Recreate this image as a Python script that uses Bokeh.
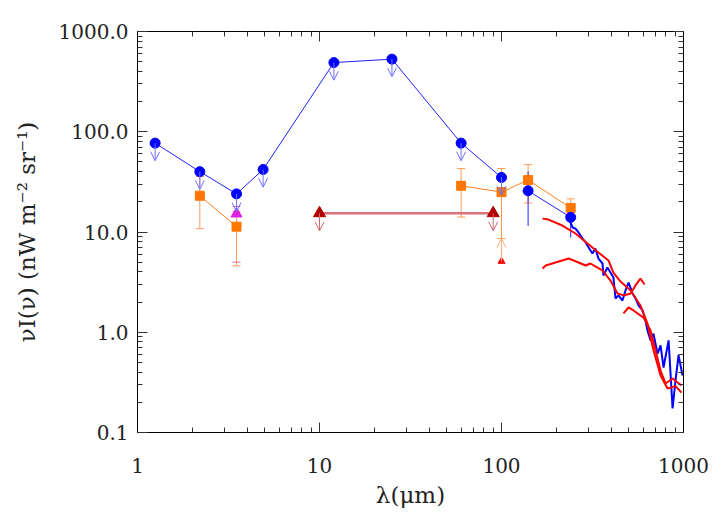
from bokeh.plotting import figure
from bokeh.models import (ColumnDataSource, LogAxis, FixedTicker, Arrow, OpenHead,
                          Whisker, TeeHead, Range1d, CustomJSTickFormatter)
from bokeh.embed import file_html
from bokeh.resources import INLINE

# ---------------- data ----------------
# DIRBE-like upper limits (blue circles with down arrows)
lim_wl = [1.25, 2.2, 3.5, 4.9, 12, 25, 60, 100]
lim_val = [77, 40, 24, 42, 490, 530, 77, 35]

# blue detections with error bars
det_wl = [140, 240]
det_val = [25.8, 14.0]
det_lo = [11.5, 8.8]
det_hi = [40, 17]

# orange squares, near-IR
onir_wl = [2.2, 3.5]
onir_val = [23, 11.3]
onir_lo = [10.8, 4.6]
onir_hi = [35.8, 16]

# orange squares, far-IR
ofir_wl = [60, 100, 140, 240]
ofir_val = [28.9, 25, 33, 17.4]
ofir_lo = [14.1, 8.6, 19.5, 13.5]
ofir_hi = [43, 43, 47, 21.4]

# magenta triangle
mag_wl = [3.5]
mag_val = [15.2]
mag_lo = [5.0]
mag_hi = [18]

# dark red triangles (upper limits, joined)
dr_wl = [10, 90]
dr_val = [15.4, 15.4]

# small red triangle (lower limit)
rt_wl = [100]
rt_val = [5.1]
rt_top = [8.6]

# spectra
spec_blue_wl = [234, 246, 255, 265, 279, 290, 301, 316, 328, 341, 359, 363, 382, 397, 412,
                423, 439, 462, 480, 499, 525, 545, 566, 596, 618, 634, 659, 684, 720, 748,
                777, 828, 871, 904, 939, 988]
spec_blue_val = [13.6, 11.1, 10.8, 9.89, 8.61, 7.86, 7.0, 6.1, 6.85, 5.44, 4.85, 3.68, 4.42,
                 3.94, 3.52, 2.17, 2.33, 2.07, 2.61, 3.13, 2.44, 2.17, 1.85, 1.65, 1.31, 1.04,
                 0.83, 0.97, 0.61, 0.74, 0.445, 0.83, 0.174, 0.33, 0.59, 0.37]

spec_ra_wl = [168, 181, 216, 255, 297, 341, 387, 412, 451, 512, 580, 634, 684, 748, 817, 904, 975]
spec_ra_val = [13.6, 13.3, 11.6, 9.66, 7.68, 6.24, 5.2, 3.94, 3.2, 2.61, 1.85, 1.22, 0.66,
               0.37, 0.275, 0.29, 0.25]

spec_rb_wl = [168, 175, 198, 234, 265, 290, 308, 337, 359, 397, 434, 468, 512, 545, 580, 611]
spec_rb_val = [4.32, 4.63, 4.96, 5.44, 4.96, 4.63, 4.85, 4.42, 4.13, 3.28, 2.44, 2.33, 2.44,
               2.93, 3.44, 2.99]

spec_rc_wl = [468, 499, 531, 603, 659, 702, 748, 797, 871, 975]
spec_rc_val = [1.54, 1.77, 1.65, 1.40, 1.04, 0.66, 0.415, 0.308, 0.346, 0.294]

x_major = [1, 10, 100, 1000]
x_labels = ["1", "10", "100", "1000"]
y_major = [0.1, 1, 10, 100, 1000]
y_labels = ["0.1", "1.0", "10.0", "100.0", "1000.0"]

ARROW_FACTOR = 1.5
FONT = "DejaVu Serif"

# ---------------- figure ----------------
p = figure(x_axis_type="log", y_axis_type="log",
           x_range=Range1d(1, 1000), y_range=Range1d(0.1, 1000),
           frame_width=546, frame_height=401,
           min_border_left=137, min_border_right=36, min_border_top=31, min_border_bottom=79,
           output_backend="svg", toolbar_location=None,
           background_fill_color="white", border_fill_color="white")
p.grid.visible = False
p.outline_line_color = "black"
p.outline_line_width = 1

x_minor = [k * 10 ** d for d in range(0, 3) for k in range(2, 10)]
y_minor = [k * 10 ** d for d in range(-1, 3) for k in range(2, 10)]
xt = FixedTicker(ticks=x_major, minor_ticks=x_minor)
yt = FixedTicker(ticks=y_major, minor_ticks=y_minor)

lookup_code = """
for (let i = 0; i < majors.length; i++) {
    if (Math.abs(tick - majors[i]) <= 1e-6 * majors[i]) { return names[i]; }
}
return '';
"""
p.xaxis.ticker = xt
p.yaxis.ticker = yt
p.xaxis.formatter = CustomJSTickFormatter(args=dict(majors=x_major, names=x_labels), code=lookup_code)
p.yaxis.formatter = CustomJSTickFormatter(args=dict(majors=y_major, names=y_labels), code=lookup_code)

for ax in [p.xaxis[0], p.yaxis[0]]:
    ax.major_tick_in = 10
    ax.major_tick_out = 0
    ax.minor_tick_in = 5
    ax.minor_tick_out = 0
    ax.axis_line_color = "black"
    ax.major_tick_line_color = "#333333"
    ax.minor_tick_line_color = "#333333"
    ax.major_label_text_font = FONT
    ax.major_label_text_font_size = "20px"
    ax.major_label_text_color = "#222222"
    ax.axis_label_text_font = FONT
    ax.axis_label_text_font_size = "23px"
    ax.axis_label_text_font_style = "normal"
    ax.axis_label_text_color = "#222222"

p.xaxis.major_label_standoff = 25
p.yaxis.major_label_standoff = 9
p.xaxis.axis_label = "λ(μm)"
p.yaxis.axis_label = "νI(ν) (nW m⁻² sr⁻¹)"
p.xaxis.axis_label_standoff = 6
p.yaxis.axis_label_standoff = 16

empty = CustomJSTickFormatter(code="return ''")
for side, tk in [("right", yt), ("above", xt)]:
    a = LogAxis(ticker=tk, formatter=empty, major_tick_in=10, major_tick_out=0,
                minor_tick_in=5, minor_tick_out=0, axis_line_color="black",
                major_tick_line_color="#333333", minor_tick_line_color="#333333",
                major_label_standoff=0)
    p.add_layout(a, side)

# ---------------- spectra ----------------
p.line(spec_blue_wl, spec_blue_val, line_color="blue", line_width=2)
p.line(spec_ra_wl, spec_ra_val, line_color="red", line_width=2)
p.line(spec_rb_wl, spec_rb_val, line_color="red", line_width=2)
p.line(spec_rc_wl, spec_rc_val, line_color="red", line_width=2)

# ---------------- error bars ----------------
def whisk(wl, lo, hi, color, head=True, width=1):
    src = ColumnDataSource(dict(x=wl, lo=lo, hi=hi))
    if head:
        uh = TeeHead(size=8, line_color=color, line_width=width)
        lh = TeeHead(size=8, line_color=color, line_width=width)
    else:
        uh = None
        lh = None
    w = Whisker(base="x", lower="lo", upper="hi", source=src, dimension="height",
                line_color=color, line_width=width, upper_head=uh, lower_head=lh)
    p.add_layout(w)

whisk(mag_wl, mag_lo, mag_hi, "#e060c0")
whisk(onir_wl, onir_lo, onir_hi, "#ff9a60")
whisk(ofir_wl, ofir_lo, ofir_hi, "#ff9a50")
whisk(det_wl, det_lo, det_hi, "#2020ff", head=False)

# ---------------- arrows ----------------
def arrows(wl, val, color, factor):
    src = ColumnDataSource(dict(x=wl, y=val, ye=[v * factor for v in val]))
    a = Arrow(end=OpenHead(size=9, line_color=color, line_width=1),
              x_start="x", y_start="y", x_end="x", y_end="ye", source=src,
              line_color=color, line_width=1)
    p.add_layout(a)

arrows(lim_wl, lim_val, "#7070ff", 1 / ARROW_FACTOR)
arrows(dr_wl, dr_val, "#d06a70", 1 / ARROW_FACTOR)
src_up = ColumnDataSource(dict(x=rt_wl, y=rt_val, ye=rt_top))
p.add_layout(Arrow(end=OpenHead(size=9, line_color="#ffb07a", line_width=1),
                   x_start="x", y_start="y", x_end="x", y_end="ye", source=src_up,
                   line_color="#ffb07a", line_width=1))

# ---------------- connected points ----------------
p.line(dr_wl, dr_val, line_color="#d9707a", line_width=2.5)
p.scatter(dr_wl, dr_val, marker="triangle", size=12, fill_color="#b00000", line_color="#b00000")

p.line(onir_wl, onir_val, line_color="#ff8020", line_width=1)
p.line(ofir_wl, ofir_val, line_color="#ff8020", line_width=1)
p.scatter(onir_wl, onir_val, marker="square", size=9, fill_color="#ff7700", line_color="#ff7700")
p.scatter(ofir_wl, ofir_val, marker="square", size=9, fill_color="#ff7700", line_color="#ff7700")

p.line(lim_wl, lim_val, line_color="#2020ff", line_width=1)
p.scatter(lim_wl, lim_val, marker="circle", size=10, fill_color="blue", line_color="blue")
p.line(det_wl, det_val, line_color="#2020ff", line_width=1)
p.scatter(det_wl, det_val, marker="circle", size=10, fill_color="blue", line_color="blue")

p.scatter(mag_wl, mag_val, marker="triangle", size=11, fill_color="#e020e0", line_color="#e020e0")
p.scatter(rt_wl, rt_val, marker="triangle", size=7, fill_color="red", line_color="red")

open("out.html", "w").write(file_html(p, INLINE))
